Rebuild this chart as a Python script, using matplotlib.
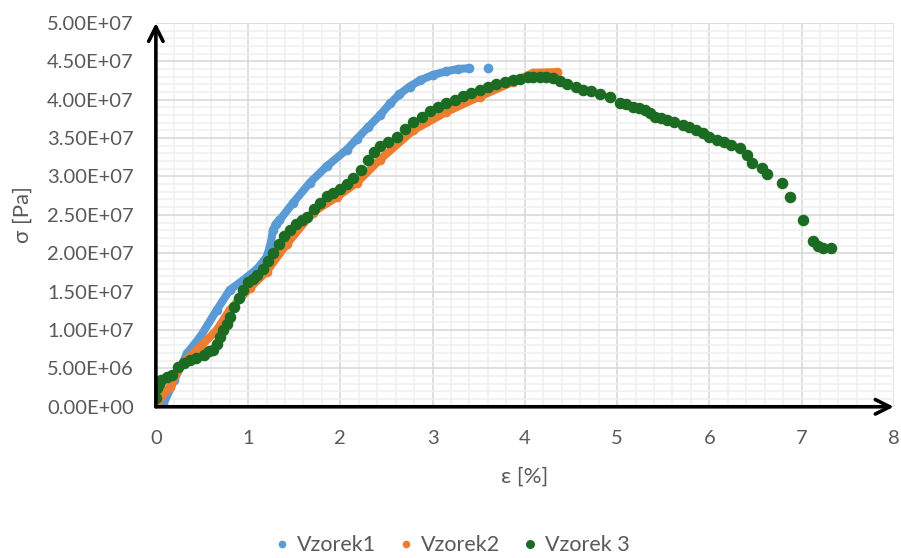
#!/usr/bin/env python3

from matplotlib import pyplot as plt
from matplotlib.ticker import MultipleLocator, FuncFormatter
import numpy as np


FIGSIZE = (9.01, 5.58)
TEXT_COLOR = "#595959"

# values; strain in %, stress in 1e7 Pa
blue_x = [0, 0.08, 0.2, 0.34, 0.48, 0.66, 0.80, 0.99, 1.1, 1.2, 1.24, 1.27,
          1.3, 1.34, 1.49, 1.67, 1.85, 2.07, 2.18, 2.3, 2.43, 2.54, 2.64,
          2.75, 2.86, 3.0, 3.15, 3.28, 3.40, 3.6]
blue_y = [0, 0.03, 0.35, 0.70, 0.91, 1.26, 1.52, 1.69, 1.8, 1.95, 2.1, 2.3,
          2.38, 2.43, 2.66, 2.92, 3.13, 3.35, 3.49, 3.64, 3.80, 3.95, 4.07,
          4.17, 4.25, 4.32, 4.37, 4.40, 4.41, 4.41]

orange_x = [0, 0.01, 0.15, 0.29, 0.48, 0.66, 0.80, 1.02, 1.2, 1.42, 1.70,
            1.96, 2.18, 2.43, 2.79, 3.15, 3.51, 3.87, 4.09, 4.35]
orange_y = [0, 0.05, 0.26, 0.57, 0.78, 1.0, 1.26, 1.55, 1.76, 2.12, 2.53,
            2.73, 2.92, 3.22, 3.60, 3.84, 4.04, 4.23, 4.35, 4.36]

green_x = [0.0, 0.01, 0.03, 0.06, 0.12, 0.18, 0.24, 0.30, 0.37, 0.44, 0.52,
           0.58, 0.62, 0.66, 0.69, 0.73, 0.77, 0.80, 0.85, 0.90, 0.94, 1.00,
           1.05, 1.10, 1.16, 1.22, 1.27, 1.33, 1.39, 1.45, 1.52, 1.58, 1.64,
           1.71, 1.78, 1.85, 1.92, 2.0, 2.07, 2.14, 2.22, 2.3, 2.37, 2.43,
           2.52, 2.61, 2.70, 2.79, 2.88, 2.97, 3.06, 3.15, 3.24, 3.33, 3.42,
           3.51, 3.60, 3.69, 3.78, 3.87, 3.95, 4.03, 4.09, 4.16, 4.23, 4.30,
           4.38, 4.46, 4.55, 4.63, 4.72, 4.81, 4.92, 5.03, 5.10, 5.17, 5.24,
           5.30, 5.36, 5.41, 5.48, 5.54, 5.62, 5.71, 5.78, 5.86, 5.93, 6.0,
           6.08, 6.16, 6.24, 6.33, 6.41, 6.46, 6.57, 6.63, 6.79, 6.87, 7.02,
           7.12, 7.18, 7.23, 7.32]
green_y = [0.12, 0.25, 0.3, 0.35, 0.39, 0.42, 0.52, 0.57, 0.61, 0.64, 0.68,
           0.72, 0.74, 0.82, 0.91, 1.0, 1.08, 1.17, 1.30, 1.42, 1.52, 1.62,
           1.67, 1.72, 1.80, 1.90, 2.0, 2.12, 2.22, 2.30, 2.38, 2.43, 2.47,
           2.57, 2.66, 2.75, 2.78, 2.84, 2.90, 2.98, 3.08, 3.22, 3.32, 3.39,
           3.45, 3.52, 3.62, 3.71, 3.78, 3.85, 3.91, 3.96, 4.0, 4.05, 4.09,
           4.13, 4.17, 4.20, 4.23, 4.26, 4.27, 4.29, 4.30, 4.30, 4.29, 4.28,
           4.24, 4.20, 4.17, 4.13, 4.11, 4.08, 4.03, 3.96, 3.94, 3.91, 3.89,
           3.87, 3.82, 3.78, 3.76, 3.74, 3.71, 3.67, 3.64, 3.61, 3.57, 3.52,
           3.48, 3.45, 3.41, 3.37, 3.28, 3.18, 3.11, 3.03, 2.92, 2.73, 2.43,
           2.16, 2.10, 2.07, 2.07]

labels = ["Vzorek1", "Vzorek2", "Vzorek 3"]
colors = ["#5B9BD5", "#ED7D31", "#1C6B23"]


def sci_label(v, pos):
    m, e = ("%.2E" % v).split("E")
    return "%sE%s%02d" % (m, e[0], abs(int(e)))


def main():
    plt.rcParams["font.family"] = ["Lato", "DejaVu Sans"]

    fig = plt.figure(figsize=FIGSIZE, dpi=100)
    ax = fig.add_axes([0.173, 0.271, 0.819, 0.688])

    scale = 1e7
    # dense measurement points: drawn as thick connected dots
    ax.plot(blue_x[:-1], np.array(blue_y[:-1]) * scale, "-",
            color=colors[0], lw=5.8, solid_capstyle="round", zorder=3)
    ax.plot(blue_x, np.array(blue_y) * scale, "o", color=colors[0], ms=6,
            label=labels[0], zorder=3)
    ax.plot(orange_x, np.array(orange_y) * scale, "-", color=colors[1],
            lw=5.8, solid_capstyle="round", zorder=4)
    ax.plot(orange_x, np.array(orange_y) * scale, "o", color=colors[1], ms=6,
            label=labels[1], zorder=4)
    ax.plot(green_x, np.array(green_y) * scale, "o", color=colors[2], ms=7.3,
            label=labels[2], zorder=5)

    ax.set_xlim(0, 8)
    ax.set_ylim(0, 5e7)
    ax.xaxis.set_major_locator(MultipleLocator(1))
    ax.xaxis.set_minor_locator(MultipleLocator(0.2))
    ax.yaxis.set_major_locator(MultipleLocator(5e6))
    ax.yaxis.set_minor_locator(MultipleLocator(1e6))
    ax.yaxis.set_major_formatter(FuncFormatter(sci_label))

    ax.grid(which="minor", color="#F0F0F0", lw=1.2, zorder=0)
    ax.grid(which="major", color="#D9D9D9", lw=1.2, zorder=1)
    ax.set_axisbelow(True)

    for side in ["top", "right", "left", "bottom"]:
        ax.spines[side].set_visible(False)

    # axes drawn as black arrows
    arrow = dict(arrowstyle="->", color="black", lw=2.6,
                 mutation_scale=26, shrinkA=0, shrinkB=0)
    ax.annotate("", xy=(0, 1), xytext=(0, 0), xycoords="axes fraction",
                arrowprops=arrow, zorder=6, annotation_clip=False)
    ax.annotate("", xy=(1, 0), xytext=(0, 0), xycoords="axes fraction",
                arrowprops=arrow, zorder=6, annotation_clip=False)

    ax.tick_params(which="both", length=0, labelsize=14.5,
                   labelcolor=TEXT_COLOR)
    ax.tick_params(axis="x", pad=17)
    ax.tick_params(axis="y", pad=16)

    ax.set_xlabel("ε [%]", fontsize=16, color=TEXT_COLOR, labelpad=14)
    ax.set_ylabel("σ [Pa]", fontsize=16, color=TEXT_COLOR, labelpad=10)

    fig.legend(loc="lower center", bbox_to_anchor=(0.5, -0.03), ncol=3,
               frameon=False, fontsize=15.5, labelcolor=TEXT_COLOR,
               handlelength=1.0, handletextpad=0.2, columnspacing=0.9,
               markerscale=0.75)

    fig.savefig("out.png", dpi=100)


if __name__ == "__main__":
    main()
